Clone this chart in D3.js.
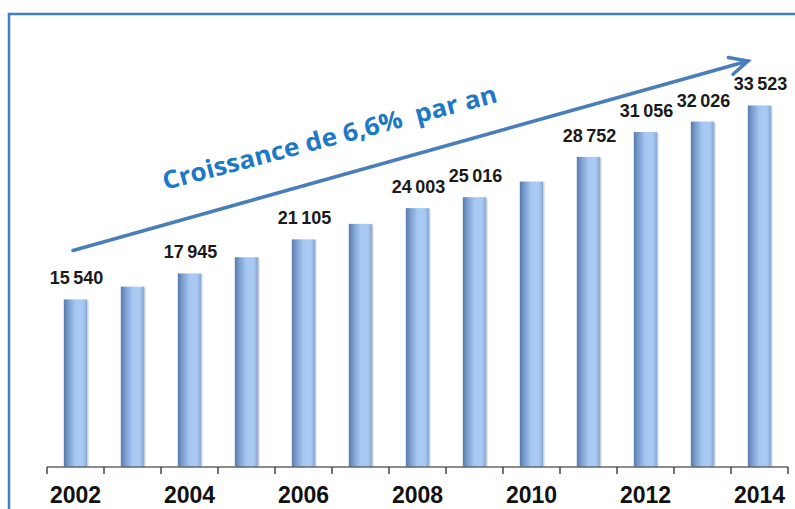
<!DOCTYPE html>
<html>
<head>
<meta charset="utf-8">
<script src="https://cdn.jsdelivr.net/npm/d3@7"></script>
<style>
  body { margin: 0; background: #fff; }
  svg { display: block; }
</style>
</head>
<body>
<div id="chart"></div>
<script>
// chart data
const years = [2002, 2003, 2004, 2005, 2006, 2007, 2008, 2009, 2010, 2011, 2012, 2013, 2014];
const values = [15540, 16725, 17945, 19450, 21105, 22540, 24003, 25016, 26470, 28752, 31056, 32026, 33523];
const labelledYears = [2002, 2004, 2006, 2008, 2009, 2011, 2012, 2013, 2014];
const tickYears = [2002, 2004, 2006, 2008, 2010, 2012, 2014];
const title = "Croissance de 6,6%  par an";

const width = 795, height = 509;
const margin = {top: 14, right: 7, bottom: 42, left: 47};
const baseY = height - margin.bottom;

const svg = d3.select("#chart")
  .append("svg")
  .attr("width", width)
  .attr("height", height);

const defs = svg.append("defs");
const grad = defs.append("linearGradient")
  .attr("id", "barGrad")
  .attr("x1", "0%").attr("x2", "100%").attr("y1", "0%").attr("y2", "0%");
[[0, "#587aaa"], [0.2, "#7b9fd0"], [0.5, "#a6c8f2"], [0.8, "#a9cbf3"], [1, "#86a7d2"]]
  .forEach(s => grad.append("stop").attr("offset", s[0]).attr("stop-color", s[1]));

// frame (runs off the right and bottom edges)
svg.append("rect")
  .attr("x", 9).attr("y", 14)
  .attr("width", 820).attr("height", 540)
  .attr("fill", "none")
  .attr("stroke", "#3f7ec2")
  .attr("stroke-width", 2.5);

const x = d3.scaleBand()
  .domain(years)
  .range([margin.left, width - margin.right])
  .padding(0);

const y = d3.scaleLinear()
  .domain([0, 42000])
  .range([baseY, margin.top]);

const barW = x.bandwidth() * 0.41;
const data = years.map((yr, i) => ({year: yr, value: values[i]}));

// bar shadows
svg.selectAll("rect.shadow")
  .data(data)
  .enter()
  .append("rect")
    .attr("class", "shadow")
    .attr("x", d => x(d.year) + x.bandwidth() / 2 - barW / 2 + 1.5)
    .attr("y", d => y(d.value) + 1)
    .attr("width", barW)
    .attr("height", d => baseY - y(d.value) - 1)
    .attr("fill", "#c9ccd3")
    .attr("opacity", 0.7);

// bars
svg.selectAll("rect.bar")
  .data(data)
  .enter()
  .append("rect")
    .attr("class", "bar")
    .attr("x", d => x(d.year) + x.bandwidth() / 2 - barW / 2)
    .attr("y", d => y(d.value))
    .attr("width", barW)
    .attr("height", d => baseY - y(d.value))
    .attr("fill", "url(#barGrad)");

// value labels
const fmt = v => d3.format(",")(v).replace(",", "\u202f");
svg.selectAll("text.val")
  .data(data.filter(d => labelledYears.includes(d.year)))
  .enter()
  .append("text")
    .attr("class", "val")
    .attr("x", d => x(d.year) + x.bandwidth() / 2 + 1)
    .attr("y", d => y(d.value) - 15)
    .attr("text-anchor", "middle")
    .attr("font-family", "'Liberation Sans', Arial, sans-serif")
    .attr("font-weight", "bold")
    .attr("font-size", 18)
    .attr("letter-spacing", -0.7)
    .attr("fill", "#1a1a1a")
    .text(d => fmt(d.value));

// x axis: ticks at band edges, labels every other year
const axis = svg.append("g");
axis.append("line")
  .attr("x1", x.range()[0]).attr("x2", x.range()[1])
  .attr("y1", baseY).attr("y2", baseY)
  .attr("stroke", "#666").attr("stroke-width", 1.5);
const edges = years.map(d => x(d)).concat([x.range()[1]]);
axis.selectAll("line.tick")
  .data(edges)
  .enter()
  .append("line")
    .attr("class", "tick")
    .attr("x1", d => d).attr("x2", d => d)
    .attr("y1", baseY).attr("y2", baseY + 7)
    .attr("stroke", "#444").attr("stroke-width", 1.5);
axis.selectAll("text")
  .data(tickYears)
  .enter()
  .append("text")
    .attr("x", d => x(d) + x.bandwidth() / 2)
    .attr("y", baseY + 36)
    .attr("text-anchor", "middle")
    .attr("font-family", "'Liberation Sans', Arial, sans-serif")
    .attr("font-weight", "bold")
    .attr("font-size", 23)
    .attr("fill", "#111")
    .text(d => d);

// growth arrow
const arrow = svg.append("g")
  .attr("stroke", "#4a7ebb")
  .attr("stroke-width", 3.5)
  .attr("stroke-linecap", "round")
  .attr("fill", "none");
const a0 = [73, 250.5], a1 = [748, 61];
arrow.append("line")
  .attr("x1", a0[0]).attr("y1", a0[1])
  .attr("x2", a1[0]).attr("y2", a1[1]);
const ang = Math.atan2(a1[1] - a0[1], a1[0] - a0[0]);
const headLen = 20, headAng = 0.45;
arrow.append("polyline")
  .attr("stroke-linejoin", "miter")
  .attr("points", [
    [a1[0] - headLen * Math.cos(ang - headAng), a1[1] - headLen * Math.sin(ang - headAng)],
    a1,
    [a1[0] - headLen * Math.cos(ang + headAng), a1[1] - headLen * Math.sin(ang + headAng)]
  ].map(p => p.join(",")).join(" "));

svg.append("text")
  .attr("transform", "translate(165,190) rotate(-14.8)")
  .attr("font-family", "'Open Sans', 'Noto Sans', sans-serif")
  .attr("font-weight", "bold")
  .attr("font-size", 25)
  .attr("fill", "#1e78c6")
  .attr("textLength", 345)
  .attr("lengthAdjust", "spacingAndGlyphs")
  .style("white-space", "pre")
  .text(title);
</script>
</body>
</html>
